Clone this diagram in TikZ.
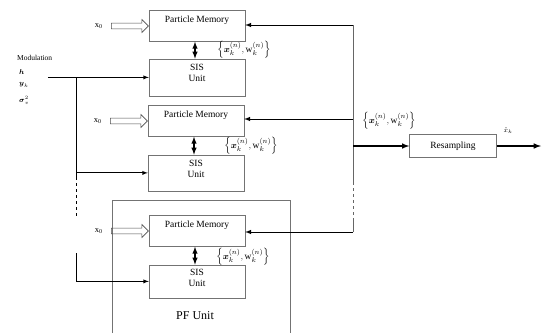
\documentclass[tikz,border=0pt]{standalone}
\usepackage{amsmath,amssymb}
\usepackage{fontspec}
\setmainfont{Liberation Serif}
\usetikzlibrary{positioning,shapes.arrows}

\tikzset{
  blk/.style={draw=black!55, rectangle, minimum width=96pt, align=center, font=\fontsize{9.5}{11}\selectfont},
  hollow/.style={draw=black!70, shape=single arrow, minimum height=37pt, inner sep=2.6pt, single arrow head extend=3.6pt, line width=0.6pt},
  lbl/.style={font=\fontsize{9.5}{11}\selectfont},
  inp/.style={anchor=west, inner sep=0pt, font=\fontsize{7.5}{9}\selectfont},
  bus/.style={draw=black!60, line width=0.8pt},
}
\newcommand{\xwset}{$\left\{\boldsymbol{x}_k^{(n)},\mathrm{w}_k^{(n)}\right\}$}

\begin{document}
\begin{tikzpicture}[x=1pt, y=-1pt, >=latex]
    \useasboundingbox (0,0) rectangle (542,333);

    % PF unit frame, open at the bottom
    \draw[draw=black!55] (112,333) |- (290,200) -- (290,333);
    \node[font=\fontsize{12}{14}\selectfont] (pfname) at (195,316) {PF Unit};

    % Blocks
    \node[blk, minimum height=31pt, text depth=13pt] (pm1) at (197,26) {Particle Memory};
    \node[blk, minimum height=37pt, text depth=9pt, below=17pt of pm1] (sis1) {SIS\\Unit};
    \node[blk, minimum height=31pt, text depth=13pt] (pm2) at (196,121) {Particle Memory};
    \node[blk, minimum height=36pt, text depth=9pt, below=18pt of pm2] (sis2) {SIS\\Unit};
    \node[blk, minimum height=31pt, text depth=13pt] (pm3) at (197,231) {Particle Memory};
    \node[blk, minimum height=33pt, text depth=8pt, below=18pt of pm3] (sis3) {SIS\\Unit};
    \node[blk, minimum width=87pt, minimum height=23pt] (resamp) at (453,146) {Resampling};

    % Initial particles
    \foreach \i in {1,2,3} {
        \node[hollow, anchor=tip] (init\i) at (pm\i.west) {};
        \node[font=\fontsize{8.5}{9}\selectfont, left=5pt of init\i.tail] (xz\i) {x\textsubscript{0}};
    }

    % Inputs
    \node[inp] (modlbl) at (17,58) {Modulation};
    \node[inp] (hin) at (19,72) {$\boldsymbol{h}$};
    \node[inp] (yin) at (19,85) {$\boldsymbol{y}_k$};
    \node[inp] (sin) at (19,100) {$\boldsymbol{\sigma}_v^2$};
    \coordinate (modin) at ([xshift=-101pt]sis1.west);
    \coordinate (j1) at ([xshift=-72pt]sis1.west);
    \coordinate (d1) at (j1 |- 0,177);
    \coordinate (d2) at (j1 |- 0,218);
    \coordinate (d3) at (j1 |- 0,253);
    \draw[->, line width=0.9pt] (modin) -- (sis1.west);
    \draw[line width=0.8pt] (j1) -- (d1);
    \draw[->, line width=0.9pt] (j1 |- sis2.west) -- (sis2.west);
    \draw[dashed, line width=0.9pt] (d1) -- (d2);
    \draw[->, line width=0.9pt] (d3) |- (sis3.west);

    % Memory <-> SIS
    \foreach \i in {1,2,3} {
        \draw[<->, line width=1.4pt] ([xshift=-2pt]pm\i.south) -- ([xshift=-2pt]sis\i.north);
    }
    \node[lbl] (w1) at (244,50) {\xwset};
    \node[lbl] (w2) at (251,146) {\xwset};
    \node[lbl] (w3) at (243,257) {\xwset};

    % Feedback bus
    \coordinate (b1) at (353,25);
    \coordinate (b2) at (353,182);
    \coordinate (b3) at (353,218);
    \coordinate (b4) at (353,232);
    \draw[bus] (b1) -- (b2);
    \draw[bus, dashed, line width=1pt] (b2) -- (b3);
    \draw[bus] (b3) -- (b4);
    \draw[->, line width=1pt] (b1) -- (b1 -| pm1.east);
    \draw[->, line width=1pt] (353,119) -- (pm2.east |- 353,119);
    \draw[->, line width=1pt] (b4) -- (b4 -| pm3.east);

    % Resampling
    \node[lbl] (wall) at (389,121) {\xwset};
    \draw[->, line width=1.5pt] (353,146) -- (resamp.west);
    \coordinate (out) at (541,146);
    \draw[->, line width=1.5pt] (resamp.east) -- (out);
    \node[font=\fontsize{7}{8}\selectfont] (xhat) at (508,131) {$\hat{x}_k$};
\end{tikzpicture}
\end{document}
